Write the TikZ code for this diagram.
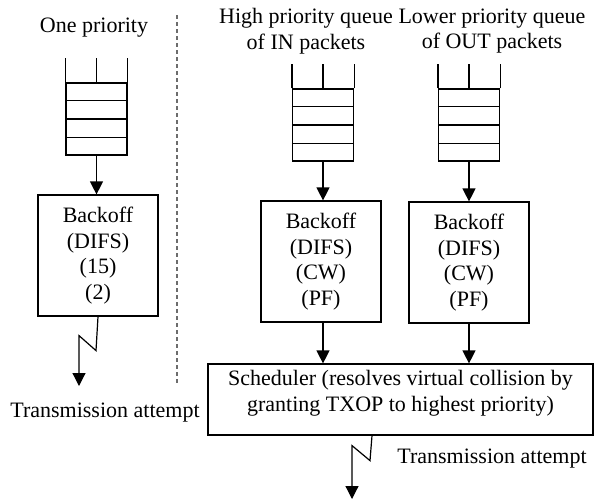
\documentclass[tikz,border=0pt]{standalone}
\usepackage{fontspec}
\setmainfont{Liberation Serif}
\usetikzlibrary{arrows.meta,calc}

\begin{document}
\begin{tikzpicture}[x=1pt,y=-1pt,
  every node/.style={font=\fontsize{22}{25.5}\selectfont, inner sep=0pt},
  box/.style={draw, line width=1.2pt, minimum width=120pt, minimum height=121pt, align=center},
  fifo/.style={draw, line width=1.2pt, minimum width=61pt, minimum height=72pt},
  wire/.style={line width=1.2pt},
  arr/.style={line width=1.2pt, -{Triangle[width=13pt,length=13pt]}},
  lbl/.style={align=center},
  divider/.style={line width=1.4pt, gray!85!black, dash pattern=on 4pt off 3pt}]

\useasboundingbox (0,0) rectangle (597,501);

% headings
\node[lbl, anchor=base] (h1) at (94,32) {One priority};
\node[lbl, anchor=north] (h2) at (306,8.5) {High priority queue\\of IN packets};
\node[lbl, anchor=north] (h3) at (492,8.5) {Lower priority queue\\of OUT packets};

% separator between the single-queue and two-queue stations
\coordinate (d0) at (177,15);
\coordinate (d1) at (177,385);
\draw[divider] (d0) -- (d1);

% packet queues
\node[fifo] (q1) at (96.5,119) {};
\node[fifo] (q2) at (323,125) {};
\node[fifo] (q3) at (469,125) {};
\foreach \q in {q1,q2,q3} {
  \draw[wire] (\q.north west) -- ++(0,-24)
              (\q.north east) -- ++(0,-24)
              (\q.north) -- ++(0,-24);
  \foreach \f in {0.25,0.5,0.75}
    \draw[wire] ($(\q.north west)!\f!(\q.south west)$) -- ($(\q.north east)!\f!(\q.south east)$);
}

% backoff entities
\node[box] (b1) at (98,255.5) {Backoff\\(DIFS)\\(15)\\(2)};
\node[box] (b2) at (321,261.5) {Backoff\\(DIFS)\\(CW)\\(PF)};
\node[box] (b3) at (469,262.5) {Backoff\\(DIFS)\\(CW)\\(PF)};

\draw[arr] (q1.south) -- (q1.south |- b1.north);
\draw[arr] (q2.south) -- (q2.south |- b2.north);
\draw[arr] (q3.south) -- (q3.south |- b3.north);

% scheduler
\node[draw, line width=1.2pt, minimum width=385pt, minimum height=71pt] (s) at (400.5,399.5) {};
\node[lbl] (st) at (400.5,393) {Scheduler (resolves virtual collision by\\granting TXOP to highest priority)};

\draw[arr] (b2.south -| q2.south) -- (q2.south |- s.north);
\draw[arr] (b3.south) -- (b3.south |- s.north);

% transmission attempts
\coordinate (e1) at (79,386);
\draw[arr] (b1.south) -- ++(-2,34) -- ++(-17,-15) -- (e1);
\node[anchor=base] (t1) at (105,417) {Transmission attempt};

\coordinate (e2) at (352,499);
\draw[arr] ([xshift=-28.5pt]s.south) -- ++(-2,25) -- ++(-18,-15) -- (e2);
\node[anchor=base] (t2) at (492,463) {Transmission attempt};

\end{tikzpicture}
\end{document}
